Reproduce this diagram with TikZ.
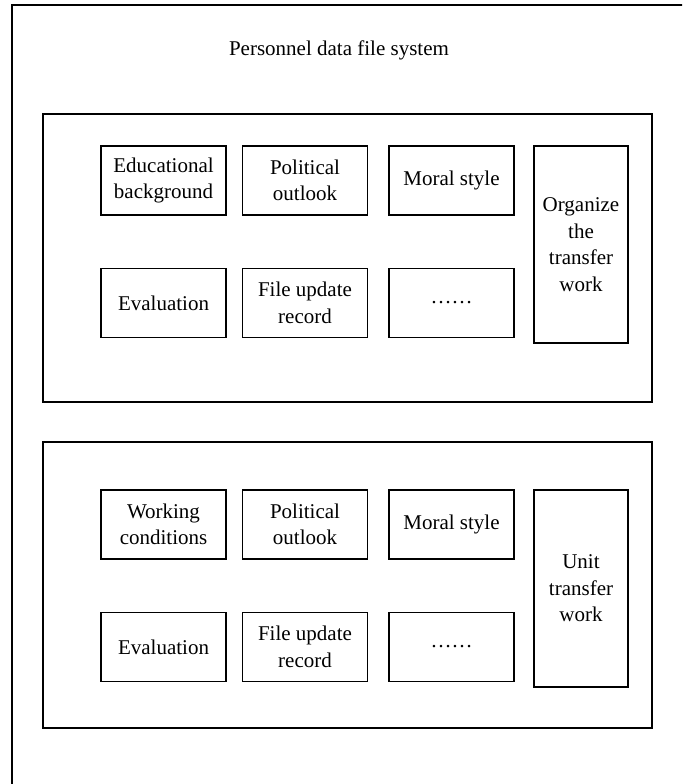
\documentclass[tikz,border=0pt]{standalone}
\usepackage{fontspec}
\setmainfont{Liberation Serif}
\usepackage{tikz}
\usetikzlibrary{positioning}

\begin{document}
\begin{tikzpicture}[x=0.5pt,
				y=-0.5pt,
				line width=0.65pt,
				cell/.style={draw, minimum width=62.5pt, minimum height=34.5pt, inner sep=0pt, align=center, font=\fontsize{10.5}{13.3}\selectfont},
				tallcell/.style={cell, minimum width=47pt, minimum height=98.5pt}]
				\useasboundingbox (0,0) rectangle (682,784);
				\clip (0,0) rectangle (682,784);
				\draw (12,5) rectangle (720,820);
				\node at (339,50) (title) [font=\fontsize{10.5}{13.3}\selectfont] {Personnel data file system};
				% upper panel
				\draw (43,114) rectangle (652,402);
				\node at (163.5,180.5) (edu) [cell] {Educational\\background};
				\node at (305,180.5) (pol) [cell] {Political\\outlook};
				\node at (451.5,180.5) (mor) [cell] {Moral style};
				\node at (163.5,303) (eva) [cell] {Evaluation};
				\node at (305,303) (upd) [cell] {File update\\record};
				\node at (451.5,303) (etc) [cell] {\dots\dots};
				\node at (581,244.5) (org) [tallcell] {Organize\\the\\transfer\\work};
				% lower panel
				\draw (43,442) rectangle (652,728);
				\node at (163.5,524.5) (wrk) [cell] {Working\\conditions};
				\node at (305,524.5) (pol2) [cell] {Political\\outlook};
				\node at (451.5,524.5) (mor2) [cell] {Moral style};
				\node at (163.5,647) (eva2) [cell] {Evaluation};
				\node at (305,647) (upd2) [cell] {File update\\record};
				\node at (451.5,647) (etc2) [cell] {\dots\dots};
				\node at (581,588.5) (unit) [tallcell] {Unit\\transfer\\work};
\end{tikzpicture}
\end{document}
